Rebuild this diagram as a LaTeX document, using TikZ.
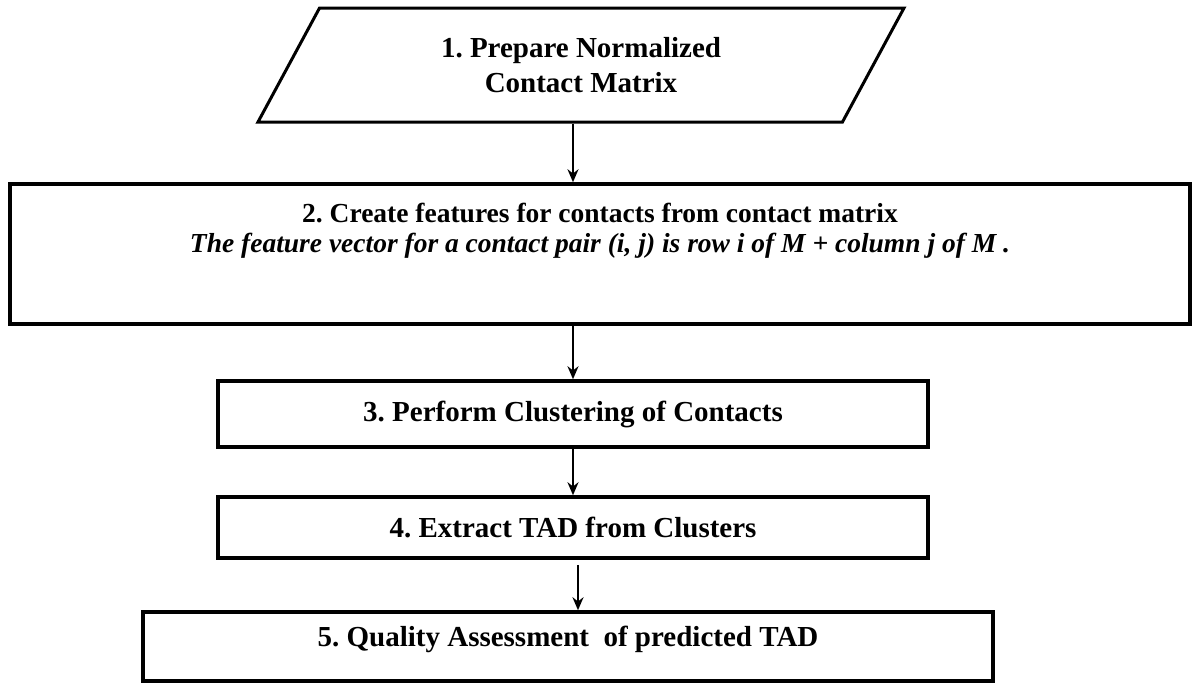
\documentclass[tikz,border=0pt]{standalone}
\usepackage{fontspec}
\setmainfont{Liberation Serif}
\usetikzlibrary{arrows.meta, positioning, shapes.geometric}
\frenchspacing

\begin{document}
\begin{tikzpicture}[x=1pt,y=-1pt,node distance=100pt,on grid,>={Stealth[length=13pt,width=11pt]},
	every node/.style={font=\fontsize{29}{35}\selectfont\bfseries},
	inbox/.style={trapezium, draw, line width=3pt, trapezium left angle=42, trapezium right angle=138,
		trapezium stretches body, minimum width=646pt, minimum height=114pt, inner sep=0pt, align=center},
	stepbox/.style={rectangle, draw, line width=3.5pt, inner sep=0pt, align=center},
	flow/.style={->, line width=2.5pt}]

	\useasboundingbox (0,0) rectangle (1194,683);

	\node (p1) [inbox] at (581,65) {1. Prepare Normalized\\Contact Matrix};
	\node (b2) [stepbox, below=189pt of p1, xshift=19pt, minimum width=1180pt, minimum height=140pt,
		font=\fontsize{27.5}{30}\selectfont\bfseries, text depth=53pt]
		{2. Create features for contacts from contact matrix\\
		\textit{The feature vector for a contact pair (i, j) is row i of M + column j of M .}};
	\node (b3) [stepbox, below=160pt of b2, xshift=-27pt, minimum width=710pt, minimum height=66pt] {3. Perform Clustering of Contacts};
	\node (b4) [stepbox, below=113.5pt of b3, minimum width=710pt, minimum height=61pt] {4. Extract TAD from Clusters};
	\node (b5) [stepbox, below=119pt of b4, xshift=-5pt, minimum width=850pt, minimum height=69pt, text depth=20pt] {5. Quality Assessment\ \ of predicted TAD};

	\draw [flow] (p1.south -| b3) -- (b2.north -| b3);
	\draw [flow] (b2.south -| b3) -- (b3.north);
	\draw [flow] (b3.south) -- (b4.north);
	\draw [flow, shorten <=5pt] ([xshift=5pt]b4.south) -- ([xshift=5pt]b4.south |- b5.north);

\end{tikzpicture}
\end{document}
